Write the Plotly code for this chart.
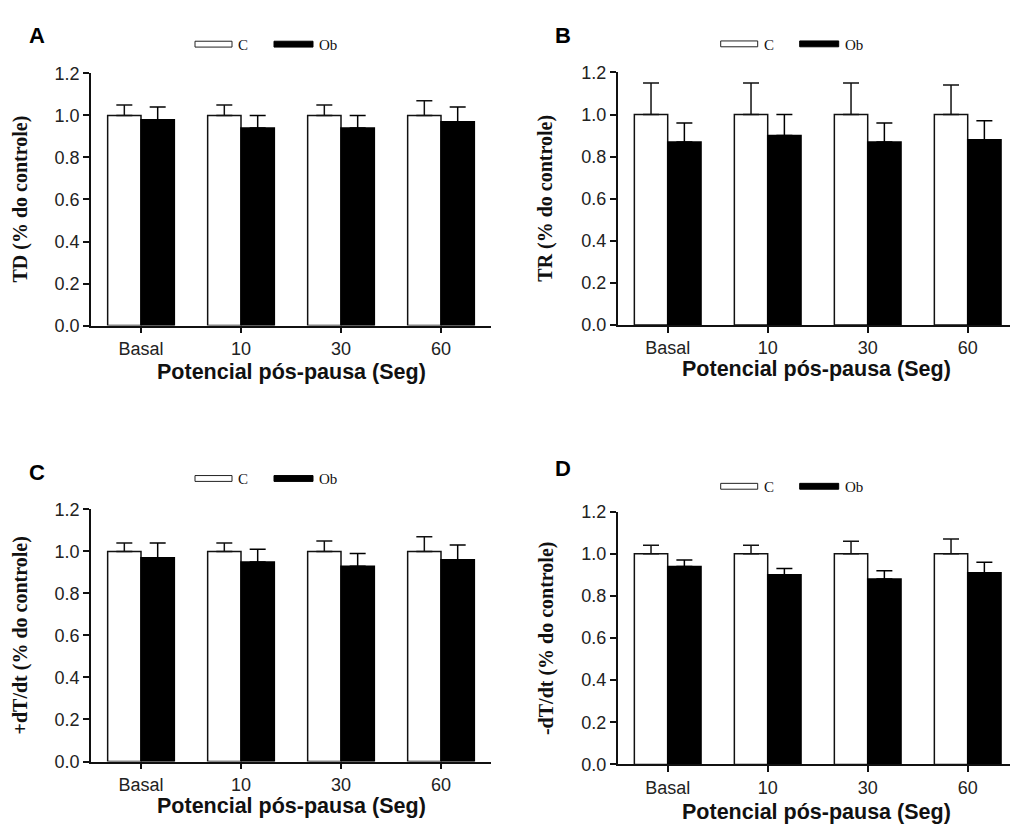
import plotly.graph_objects as go

categories = ["Basal", "10", "30", "60"]

# Panel A: TD
td_c = [1.00, 1.00, 1.00, 1.00]
td_c_err = [0.05, 0.05, 0.05, 0.07]
td_ob = [0.98, 0.94, 0.94, 0.97]
td_ob_err = [0.06, 0.06, 0.06, 0.07]

# Panel B: TR
tr_c = [1.00, 1.00, 1.00, 1.00]
tr_c_err = [0.15, 0.15, 0.15, 0.14]
tr_ob = [0.87, 0.90, 0.87, 0.88]
tr_ob_err = [0.09, 0.10, 0.09, 0.09]

# Panel C: +dT/dt
pdt_c = [1.00, 1.00, 1.00, 1.00]
pdt_c_err = [0.04, 0.04, 0.05, 0.07]
pdt_ob = [0.97, 0.95, 0.93, 0.96]
pdt_ob_err = [0.07, 0.06, 0.06, 0.07]

# Panel D: -dT/dt
ndt_c = [1.00, 1.00, 1.00, 1.00]
ndt_c_err = [0.04, 0.04, 0.06, 0.07]
ndt_ob = [0.94, 0.90, 0.88, 0.91]
ndt_ob_err = [0.03, 0.03, 0.04, 0.05]

y_titles = ["TD (% do controle)", "TR (% do controle)",
            "+dT/dt (% do controle)", "-dT/dt (% do controle)"]
x_title = "Potencial pós-pausa (Seg)"
panel_letters = ["A", "B", "C", "D"]
legend_names = ["C", "Ob"]

W, H = 1010, 833
def px(x):
    return x / W
def py(y):
    return 1 - y / H

SANS = "Liberation Sans, Arial, sans-serif"
SERIF = "Liberation Serif, Times New Roman, serif"

# layout geometry in pixels: (x_left, x_right, y_top(1.2), y_bottom(0.0))
panels = [
    (91, 491, 65, 323.3),
    (617.7, 1010, 64, 322.7),
    (91, 491, 511.7, 770),
    (617.7, 1010, 514, 773),
]
data = [
    (td_c, td_c_err, td_ob, td_ob_err),
    (tr_c, tr_c_err, tr_ob, tr_ob_err),
    (pdt_c, pdt_c_err, pdt_ob, pdt_ob_err),
    (ndt_c, ndt_c_err, ndt_ob, ndt_ob_err),
]
# legend rows: (x white left, y top)
legend_pos = [(195, 32), (720.7, 31.7), (195, 477), (720.7, 485)]
letter_pos = [(27, 26), (553, 26), (27, 474), (553, 470)]
ytitle_x = [20, 546, 20, 546]
xtitle_cx = [291, 816, 291, 816]
xtitle_y = [371, 368, 816, 822]

fig = go.Figure()
layout = dict(
    width=W, height=H, margin=dict(l=0, r=0, t=0, b=0),
    paper_bgcolor="white", plot_bgcolor="white",
    barmode="group", bargap=0.333, bargroupgap=0,
    showlegend=False,
)
annotations = []
shapes = []

for i, (pan, d) in enumerate(zip(panels, data)):
    xl, xr, yt, yb = pan
    n = "" if i == 0 else str(i + 1)
    xa, ya = "x" + n, "y" + n
    cv, ce, ov, oe = d
    fig.add_trace(go.Bar(
        x=categories, y=cv, xaxis=xa, yaxis=ya, name=legend_names[0],
        marker=dict(color="white", line=dict(color="#111", width=1.5)),
        error_y=dict(type="data", array=ce, arrayminus=[0] * 4, symmetric=False,
                     color="#111", thickness=1.5, width=8),
    ))
    fig.add_trace(go.Bar(
        x=categories, y=ov, xaxis=xa, yaxis=ya, name=legend_names[1],
        marker=dict(color="black", line=dict(color="black", width=1.5)),
        error_y=dict(type="data", array=oe, arrayminus=[0] * 4, symmetric=False,
                     color="black", thickness=1.5, width=8),
    ))
    span = (xr - xl) / 100.0
    layout["xaxis" + n] = dict(
        domain=[px(xl), px(xr)], anchor=ya, type="category",
        range=[-0.5, -0.5 + span], showline=True, linecolor="#111", linewidth=1.5,
        ticks="outside", ticklen=6, tickwidth=1.5, tickcolor="#111",
        showgrid=False, zeroline=False,
        tickfont=dict(family=SANS, size=18, color="#222"),
    )
    layout["yaxis" + n] = dict(
        domain=[py(yb), py(yt)], anchor=xa, range=[0, 1.2], dtick=0.2,
        tickformat=".1f", showline=True, linecolor="#111", linewidth=1.5,
        ticks="outside", ticklen=6, tickwidth=1.5, tickcolor="#111",
        showgrid=False, zeroline=False,
        tickfont=dict(family=SANS, size=18, color="#222"),
    )
    # axis titles
    annotations.append(dict(
        text="<b>" + x_title + "</b>", xref="paper", yref="paper",
        x=px(xtitle_cx[i]), y=py(xtitle_y[i]),
        xanchor="center", yanchor="middle", showarrow=False,
        font=dict(family=SANS, size=21.5, color="#111"),
    ))
    annotations.append(dict(
        text="<b>" + y_titles[i] + "</b>", xref="paper", yref="paper",
        x=px(ytitle_x[i]), y=py((yt + yb) / 2), textangle=-90,
        xanchor="center", yanchor="middle", showarrow=False,
        font=dict(family=SERIF, size=20, color="#111"),
    ))
    # panel letter
    lx, ly = letter_pos[i]
    annotations.append(dict(
        text="<b>" + panel_letters[i] + "</b>", xref="paper", yref="paper",
        x=px(lx), y=py(ly), xanchor="left", yanchor="middle", showarrow=False,
        font=dict(family=SANS, size=22, color="black"),
    ))
    # legend
    gx, gy = legend_pos[i]
    shapes.append(dict(type="rect", xref="paper", yref="paper",
                       x0=px(gx), x1=px(gx + 37), y0=py(gy + 6), y1=py(gy),
                       fillcolor="white", line=dict(color="#222", width=1)))
    shapes.append(dict(type="rect", xref="paper", yref="paper",
                       x0=px(gx + 79), x1=px(gx + 118), y0=py(gy + 6), y1=py(gy),
                       fillcolor="black", line=dict(color="black", width=1)))
    annotations.append(dict(
        text=legend_names[0], xref="paper", yref="paper",
        x=px(gx + 41), y=py(gy + 4), xanchor="left", yanchor="middle",
        showarrow=False, font=dict(family=SERIF, size=15, color="#111"),
    ))
    annotations.append(dict(
        text=legend_names[1], xref="paper", yref="paper",
        x=px(gx + 122), y=py(gy + 4), xanchor="left", yanchor="middle",
        showarrow=False, font=dict(family=SERIF, size=15, color="#111"),
    ))

layout["annotations"] = annotations
layout["shapes"] = shapes
fig.update_layout(**layout)
fig.write_html("out.html")
